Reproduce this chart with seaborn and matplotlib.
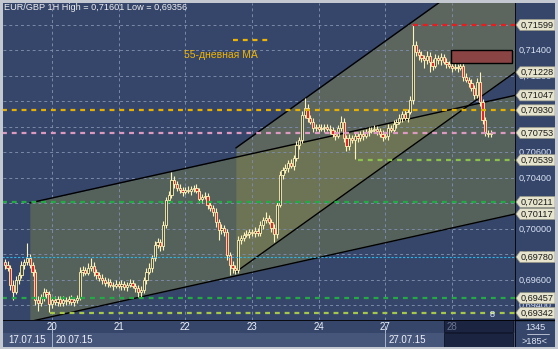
import matplotlib
matplotlib.use("Agg")
import matplotlib.pyplot as plt
import seaborn as sns
import numpy as np
import pandas as pd
from matplotlib.patches import Polygon, Rectangle

sns.set_style("dark")
plt.rcParams['font.family'] = ['Liberation Sans', 'DejaVu Sans']

# ---------------- data ----------------
chart_title = "EUR/GBP 1H High = 0,71601 Low = 0,69356"
first_hour = -17          # first bar, hours relative to 20.07 00:00
first_open = 0.69741
close = [
    # 17.07 (last hours)
    0.69717, 0.69694, 0.69561, 0.69506, 0.69600, 0.69639, 0.69717, 0.69741, 0.69772, 0.69717,
    0.69663, 0.69443, 0.69419, 0.69467, 0.69506, 0.69490, 0.69412,
    # 20.07
    0.69443, 0.69427, 0.69451, 0.69419, 0.69443, 0.69435, 0.69451, 0.69427, 0.69443, 0.69459,
    0.69663, 0.69678, 0.69655, 0.69694, 0.69710, 0.69663, 0.69639, 0.69615, 0.69600, 0.69576,
    0.69584, 0.69561, 0.69553, 0.69568,
    # 21.07
    0.69553, 0.69568, 0.69545, 0.69561, 0.69576, 0.69553, 0.69537, 0.69506, 0.69521, 0.69600,
    0.69663, 0.69694, 0.69772, 0.69874, 0.69898, 0.69866, 0.70031, 0.70227, 0.70266, 0.70384,
    0.70352, 0.70321, 0.70305, 0.70290,
    # 22.07
    0.70305, 0.70298, 0.70313, 0.70321, 0.70298, 0.70235, 0.70251, 0.70258, 0.70188, 0.70164,
    0.70133, 0.70055, 0.69992, 0.70007, 0.69976, 0.69796, 0.69717, 0.69694, 0.69678, 0.69913,
    0.69929, 0.69953, 0.69960, 0.69976,
    # 23.07
    0.69968, 0.69984, 0.69968, 0.70031, 0.70070, 0.70086, 0.70055, 0.70007, 0.69960, 0.70188,
    0.70423, 0.70462, 0.70478, 0.70517, 0.70494, 0.70556, 0.70658, 0.70697, 0.70893, 0.70948,
    0.70870, 0.70839, 0.70791, 0.70799,
    # 24.07
    0.70784, 0.70791, 0.70799, 0.70784, 0.70776, 0.70744, 0.70729, 0.70791, 0.70839, 0.70713,
    0.70650, 0.70713, 0.70697, 0.70729, 0.70713, 0.70744, 0.70729, 0.70760, 0.70768, 0.70776,
    0.70784, 0.70768, 0.70744, 0.70721,
    # 27.07
    0.70729, 0.70791, 0.70776, 0.70823, 0.70839, 0.70870, 0.70901, 0.70870, 0.70917, 0.71011,
    0.71442, 0.71387, 0.71364, 0.71340, 0.71325, 0.71356, 0.71309, 0.71278, 0.71340, 0.71325,
    0.71348, 0.71309, 0.71293, 0.71278,
    # 28.07
    0.71262, 0.71270, 0.71262, 0.71278, 0.71191, 0.71168, 0.71144, 0.71105, 0.71050, 0.71152,
    0.70995, 0.70854, 0.70752, 0.70744, 0.70753,
]
wick_up_pips = [
    2, 3, 2, 4, 3, 2, 3, 2, 12, 3, 2, 2, 3, 2, 3, 2, 2,
    2, 3, 2, 2, 3, 2, 2, 3, 2, 2, 4, 3, 2, 4, 6, 3, 2, 2, 3, 2, 3, 2, 2, 3,
    2, 3, 2, 2, 3, 2, 2, 2, 3, 2, 3, 4, 2, 3, 3, 2, 3, 2, 3, 6, 3, 2, 3, 2,
    2, 3, 2, 2, 3, 2, 2, 3, 2, 2, 2, 3, 2, 3, 2, 2, 2, 3, 2, 3, 2, 2, 3, 2,
    2, 3, 2, 3, 2, 5, 2, 2, 3, 2, 3, 2, 3, 2, 3, 2, 3, 2, 3, 8, 3, 2, 3, 2,
    2, 3, 2, 2, 3, 2, 3, 2, 5, 3, 2, 3, 2, 3, 2, 2, 3, 2, 3, 2, 3, 2, 2, 3,
    2, 3, 2, 3, 2, 3, 2, 3, 2, 3, 16, 3, 2, 3, 2, 4, 3, 2, 3, 2, 3, 2, 3, 2,
    2, 3, 2, 3, 2, 3, 2, 3, 2, 3, 8, 2, 2, 2, 2,
]
wick_dn_pips = [
    3, 2, 4, 6, 2, 3, 2, 3, 2, 2, 3, 4, 6, 2, 3, 3, 6,
    3, 2, 3, 2, 2, 3, 2, 2, 3, 2, 2, 3, 2, 2, 2, 3, 3, 2, 3, 2, 3, 2, 3, 2,
    2, 3, 2, 3, 2, 2, 3, 4, 5, 2, 3, 2, 3, 2, 2, 4, 3, 2, 2, 2, 3, 2, 2, 3,
    2, 2, 3, 2, 2, 3, 3, 2, 3, 2, 3, 4, 8, 3, 3, 4, 8, 4, 3, 2, 3, 2, 2, 3,
    2, 3, 2, 2, 3, 2, 2, 3, 6, 3, 2, 3, 2, 3, 2, 3, 2, 3, 2, 2, 3, 2, 3, 2,
    3, 2, 3, 2, 3, 2, 3, 2, 2, 3, 4, 3, 2, 15, 3, 2, 3, 2, 3, 2, 2, 3, 2, 3,
    2, 3, 2, 2, 3, 2, 3, 2, 3, 2, 3, 3, 4, 3, 6, 3, 8, 3, 2, 3, 4, 2, 3, 2,
    3, 2, 3, 2, 3, 2, 3, 2, 3, 2, 3, 3, 2, 2, 2,
]

day_hours = [0, 24, 48, 72, 96, 120, 144]
day_labels = ["20", "21", "22", "23", "24", "27", "28"]
date_labels = ["17.07.15", "20.07.15", "27.07.15"]
date_hours = [-9, 1.4, 121.2]
week_sep_hours = [0, 120]

price_ticks = [0.694, 0.696, 0.698, 0.700, 0.702, 0.704, 0.706, 0.708, 0.710, 0.712, 0.714, 0.716]

level_prices = [0.71599, 0.70930, 0.70753, 0.70539, 0.70211, 0.69780, 0.69457, 0.69342]
level_start = [130, -18, -18, 110, -18, -18, -18, -0.7]
level_colors = ["#e81e1e", "#e6b000", "#dd9ac0", "#8cc04c", "#22aa44", "#2fb4e6", "#22aa44", "#a6c84a"]

chA_t = [-8, 166.7]
chA_top = [0.70204, 0.71047]
chA_bot = [0.69274, 0.70117]
chB_t = [66.2, 166.7]
chB_top = [0.70635, 0.72200]
chB_bot = [0.69663, 0.71228]

zone_t = [143.6, 165.6]
zone_p = [0.71301, 0.71403]

ma_label = "55-дневная MA"
bars_total = "1345"
bars_visible = ">185<"

# ---------------- layout ----------------
W, H = 558, 349
BG = "#36466a"
CREAM = "#fff4b8"
fig = plt.figure(figsize=(W / 100, H / 100), dpi=100, facecolor="#c4c8d0")

def rect(x0, y0, x1, y1):
    return [x0 / W, 1 - y1 / H, (x1 - x0) / W, (y1 - y0) / H]

XL = (-17.64, 166.68)
YL = (0.69286, 0.71771)

ax = fig.add_axes(rect(3, 3, 515, 320))
ax.set_facecolor(BG)
ax.set_xlim(*XL)
ax.set_ylim(*YL)
ax.set_xticks([]); ax.set_yticks([])
for s in ax.spines.values():
    s.set_visible(False)

# grid
for p in price_ticks:
    ax.axhline(p, color="#7c8aa8", lw=0.7, ls=(0, (3, 3)), zorder=1.5)
for d in day_hours:
    ax.axvline(d, color="#7c8aa8", lw=0.7, ls=(0, (3, 3)), zorder=1.5)

# channels (fills)
ax.fill_between(chA_t, chA_bot, chA_top, color="#6f7a52", alpha=0.55, lw=0, zorder=1)
ax.fill_between(chB_t, chB_bot, chB_top, color="#8c8c50", alpha=0.45, lw=0, zorder=1.1)
for t, top, bot in [(chA_t, chA_top, chA_bot), (chB_t, chB_top, chB_bot)]:
    sns.lineplot(x=t, y=top, ax=ax, color="black", lw=1.0, zorder=2)
    sns.lineplot(x=t, y=bot, ax=ax, color="black", lw=1.0, zorder=2)

# candles
n = len(close)
hours = np.arange(first_hour, first_hour + n)
opens = np.array([first_open] + close[:-1])
closes = np.array(close)
highs = np.maximum(opens, closes) + np.array(wick_up_pips) / 10000
lows = np.minimum(opens, closes) - np.array(wick_dn_pips) / 10000
df = pd.DataFrame(dict(h=hours, o=opens, c=closes, hi=highs, lo=lows))
ax.vlines(df.h, df.lo, df.hi, color=CREAM, lw=0.8, zorder=3)
bear = df.c < df.o
body_lo = np.minimum(df.o, df.c)
body_h = np.maximum(np.abs(df.c - df.o), 0.00004)
ax.bar(df.h[~bear], body_h[~bear], bottom=body_lo[~bear], width=0.8,
       color="#4a5040", edgecolor=CREAM, lw=0.6, zorder=3.2)
ax.bar(df.h[bear], body_h[bear], bottom=body_lo[bear], width=0.8,
       color="#e02828", edgecolor=CREAM, lw=0.6, zorder=3.2)

# horizontal levels
for p, st, col in zip(level_prices, level_start, level_colors):
    if col == "#2fb4e6":
        ax.hlines(p, st, XL[1], color=col, lw=0.8, ls=(0, (2, 1.5)), zorder=4)
    else:
        ax.hlines(p, st, XL[1], color=col, lw=1.6, ls=(0, (2.2, 2.2)), zorder=4)

# zone rectangle
ax.add_patch(Rectangle((zone_t[0], zone_p[0]), zone_t[1] - zone_t[0], zone_p[1] - zone_p[0],
                       facecolor="#8a4444", edgecolor="black", lw=1.0, zorder=4.5))

# MA legend
ax.text(0.3535, 0.836, ma_label, transform=ax.transAxes, color="#f0b400",
        fontsize=7.5, va="center", ha="left", zorder=6)
ax.plot([0.449, 0.518], [0.883, 0.883], transform=ax.transAxes, color="#f0b400",
        lw=1.6, ls=(0, (2.2, 2.2)), zorder=6)

ax.text(158.5, 0.69333, "8", color="#e0e8ff", fontsize=6.5, ha="center", va="center", zorder=6)

fig.text(4 / W, 1 - 7.5 / H, chart_title, color="#eeeeee", fontsize=6.6, ha="left", va="center")

# right price axis
axr = fig.add_axes(rect(515, 3, 555, 347))
axr.set_facecolor(BG)
axr.set_xlim(0, 40)
y_per_px = (YL[1] - YL[0]) / 317
axr.set_ylim(YL[0] - 27 * y_per_px, YL[1])
axr.set_xticks([]); axr.set_yticks([])
for s in axr.spines.values():
    s.set_visible(False)
axr.axvline(0, color="black", lw=1.2)
axr.axhline(YL[0], color="black", lw=1.0)
tag_prices = level_prices + [chA_top[1], chA_bot[1], chB_bot[1]]
for p in price_ticks:
    # labels completely covered by a price tag are not visible in the terminal
    if min(abs(p - t) for t in tag_prices) < 7 * y_per_px and not (0.7115 < p < 0.7125 or 0.6975 < p < 0.6985):
        continue
    axr.text(4, p, f"{p:.5f}".replace(".", ","), color="#d8e2f4", fontsize=6.6,
             ha="left", va="center", zorder=2)
hh = 5.5 * y_per_px
for p in tag_prices:
    axr.add_patch(Polygon([(1, p), (5, p + hh), (40, p + hh), (40, p - hh), (5, p - hh)],
                          closed=True, facecolor="#e6e4cc", edgecolor="#9a9a88", lw=0.5, zorder=3))
    axr.text(5.5, p, f"{p:.5f}".replace(".", ","), color="#1a1a1a", fontsize=6.6,
             ha="left", va="center", zorder=4)
axr.text(20, YL[0] - 8 * y_per_px, bars_total, color="#e0e6f4", fontsize=6.6, ha="center", va="center")
axr.text(20, YL[0] - 21 * y_per_px, bars_visible, color="#e0e6f4", fontsize=6.6, ha="center", va="center")
axr.plot([12, 34], [YL[0] - 14 * y_per_px] * 2, color="#c8d0e0", lw=0.6)

# bottom time axis rows
ax1 = fig.add_axes(rect(3, 320, 515, 333))
ax1.set_facecolor(BG)
ax1.set_xlim(*XL); ax1.set_ylim(0, 1)
ax1.set_xticks([]); ax1.set_yticks([])
for s in ax1.spines.values():
    s.set_visible(False)
ax1.axhline(1, color="black", lw=1.2)
ax2 = fig.add_axes(rect(3, 333, 515, 347))
ax2.set_facecolor("#46557a")
ax2.set_xlim(*XL); ax2.set_ylim(0, 1)
ax2.set_xticks([]); ax2.set_yticks([])
for s in ax2.spines.values():
    s.set_visible(False)
# future (dark) box
fx0 = 141.0
for a, y0, y1 in [(ax1, 0.1, 1.0), (ax2, 0.0, 1.0)]:
    a.add_patch(Rectangle((fx0, y0), XL[1] - fx0 - 0.8, y1 - y0, facecolor="#1b2542",
                          edgecolor="#0e1428", lw=0.6, zorder=1))
for d, lab in zip(day_hours, day_labels):
    col = "#6a7592" if d >= fx0 else "#eef2fa"
    ax1.text(d, 0.45, lab, color=col, fontsize=7, ha="center", va="center", zorder=3)
for d in week_sep_hours:
    ax1.plot([d, d], [0.0, 0.55], color="#a8b4cc", lw=0.7)
    ax2.plot([d, d], [0.0, 1.0], color="#a8b4cc", lw=0.7)
ax2.text(date_hours[0], 0.5, date_labels[0], color="#eef2fa", fontsize=7, ha="center", va="center")
ax2.text(date_hours[1], 0.5, date_labels[1], color="#eef2fa", fontsize=7, ha="left", va="center")
ax2.text(date_hours[2], 0.5, date_labels[2], color="#eef2fa", fontsize=7, ha="left", va="center")

fig.savefig("out.png", dpi=100, facecolor=fig.get_facecolor())
